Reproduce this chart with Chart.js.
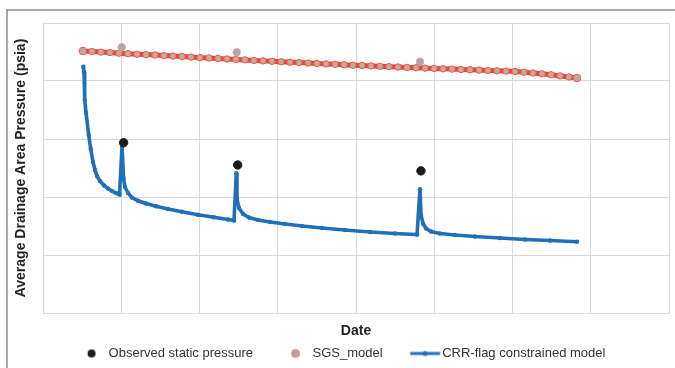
<!DOCTYPE html>
<html>
<head>
<meta charset="utf-8">
<script src="https://cdn.jsdelivr.net/npm/chart.js@4/dist/chart.umd.min.js"></script>
<style>
  html, body { margin: 0; padding: 0; background: #fff; overflow: hidden; }
  #wrap { position: relative; width: 675px; height: 370px; }
</style>
</head>
<body>
<div id="wrap"><canvas id="myChart"></canvas></div>
<script>
// x = date in grid steps (no labels shown), y = pressure in grid steps

// CRR-flag constrained model
const crrX = [0.515, 0.524, 0.533, 0.550, 0.584, 0.610, 0.639, 0.665, 0.690, 0.728, 0.780, 0.831, 0.882, 0.933, 0.978,
  1.010, 1.029, 1.048, 1.086, 1.137, 1.214, 1.316, 1.444, 1.597, 1.776, 1.981, 2.185, 2.364, 2.441,
  2.470, 2.479, 2.505, 2.556, 2.632, 2.748, 2.901, 3.093, 3.310, 3.566, 3.859, 4.179, 4.498, 4.780,
  4.818, 4.831, 4.856, 4.895, 4.958, 5.073, 5.265, 5.521, 5.840, 6.160, 6.479, 6.824];
const crrY = [4.247, 4.160, 3.672, 3.448, 3.069, 2.828, 2.603, 2.466, 2.362, 2.276, 2.198, 2.147, 2.103, 2.069, 2.043,
  2.879, 2.328, 2.172, 2.069, 1.990, 1.935, 1.888, 1.840, 1.792, 1.745, 1.695, 1.650, 1.612, 1.595,
  2.409, 1.966, 1.810, 1.707, 1.647, 1.603, 1.569, 1.534, 1.500, 1.466, 1.431, 1.397, 1.371, 1.353,
  2.133, 1.690, 1.543, 1.457, 1.405, 1.371, 1.345, 1.319, 1.293, 1.267, 1.250, 1.229];

// SGS_model
const sgsX = [0.511, 0.626, 0.741, 0.856, 0.971, 1.086, 1.201, 1.316, 1.431, 1.546, 1.661, 1.776, 1.891, 2.006,
  2.121, 2.236, 2.351, 2.466, 2.581, 2.696, 2.812, 2.927, 3.042, 3.157, 3.272, 3.387, 3.502, 3.617,
  3.732, 3.847, 3.962, 4.077, 4.192, 4.307, 4.422, 4.537, 4.652, 4.767, 4.882, 4.997, 5.112, 5.227,
  5.342, 5.457, 5.572, 5.687, 5.802, 5.917, 6.032, 6.147, 6.262, 6.377, 6.492, 6.607, 6.722, 6.824];
const sgsY = [4.517, 4.509, 4.498, 4.490, 4.479, 4.471, 4.462, 4.455, 4.447, 4.438, 4.429, 4.421, 4.412, 4.403,
  4.397, 4.388, 4.379, 4.372, 4.364, 4.355, 4.347, 4.340, 4.331, 4.324, 4.317, 4.310, 4.302, 4.295,
  4.288, 4.281, 4.272, 4.266, 4.260, 4.253, 4.247, 4.241, 4.234, 4.228, 4.222, 4.216, 4.210, 4.205,
  4.198, 4.193, 4.188, 4.181, 4.176, 4.171, 4.164, 4.152, 4.138, 4.124, 4.107, 4.088, 4.069, 4.052];

// SGS_model at the observation dates (bigger markers)
const sgsObsX = [1.006, 2.475, 4.818];
const sgsObsY = [4.581, 4.495, 4.333];

// Observed static pressure
const obsX = [1.030, 2.488, 4.830];
const obsY = [2.936, 2.552, 2.450];

const legendNames = ["Observed static pressure", "SGS_model", "CRR-flag constrained model"];

const BLUE = "#1f70ba";
const RED = "#e8472c";
const GREY = "#c2aaa7";

function toPoints(xs, ys) {
  return xs.map((x, i) => ({ x: x, y: ys[i] }));
}

// petite image pour les symboles de la légende
function legendIcon(draw) {
  const c = document.createElement("canvas");
  c.width = 60;
  c.height = 20;
  draw(c.getContext("2d"), 38.75, 10);
  return c;
}
const icons = [
  legendIcon((g, x, y) => {
    g.fillStyle = "#1a1a1a";
    g.beginPath(); g.arc(x, y, 4, 0, Math.PI * 2); g.fill();
  }),
  legendIcon((g, x, y) => {
    g.fillStyle = "#a9a9a9";
    g.strokeStyle = "#ee8070";
    g.lineWidth = 1;
    g.beginPath(); g.arc(x, y, 4, 0, Math.PI * 2); g.fill(); g.stroke();
  }),
  legendIcon((g, x, y) => {
    g.strokeStyle = BLUE;
    g.lineWidth = 3;
    g.beginPath(); g.moveTo(x - 15, y); g.lineTo(x + 15, y); g.stroke();
    g.fillStyle = BLUE;
    g.beginPath(); g.arc(x, y, 2.5, 0, Math.PI * 2); g.fill();
  }),
];

// cadre gris autour du graphique
const frame = {
  id: "frame",
  beforeDraw(chart) {
    const ctx = chart.ctx;
    ctx.save();
    ctx.fillStyle = "#fff";
    ctx.fillRect(0, 0, chart.width, chart.height);
    ctx.strokeStyle = "#8c8c8c";
    ctx.lineWidth = 1.5;
    ctx.strokeRect(7, 10, 800, 500);
    ctx.restore();
  },
};

Chart.defaults.font.family = "'Liberation Sans', Arial, sans-serif";

const sgsRadius = sgsX.map((v, i) => (i === 0 || i === sgsX.length - 1 ? 3.8 : 3.2));

const data = {
  datasets: [
    {
      label: legendNames[0],
      data: toPoints(obsX, obsY),
      backgroundColor: "#1a1a1a",
      borderColor: "#1a1a1a",
      pointRadius: 4.2,
      showLine: false,
      order: 0,
    },
    {
      label: "sgs-obs",
      data: toPoints(sgsObsX, sgsObsY),
      backgroundColor: "#a9a9a9",
      borderColor: "#e9a094",
      borderWidth: 0.8,
      pointRadius: 3.8,
      showLine: false,
      order: 1,
    },
    {
      label: legendNames[1],
      data: toPoints(sgsX, sgsY),
      borderColor: RED,
      borderWidth: 5,
      backgroundColor: GREY,
      pointBorderColor: "#ee5a42",
      pointBorderWidth: 1,
      pointRadius: sgsRadius,
      showLine: true,
      order: 2,
    },
    {
      label: legendNames[2],
      data: toPoints(crrX, crrY),
      borderColor: BLUE,
      backgroundColor: BLUE,
      borderWidth: 3.6,
      pointRadius: 2.2,
      pointBorderWidth: 0,
      showLine: true,
      order: 3,
    },
  ],
};

const config = {
  type: "scatter",
  data: data,
  plugins: [frame],
  options: {
    responsive: true,
    maintainAspectRatio: false,
    animation: false,
    layout: { padding: { top: 23, left: 0, right: 6, bottom: 0 } },
    plugins: {
      tooltip: { enabled: false },
      legend: {
        position: "bottom",
        labels: {
          usePointStyle: true,
          pointStyleWidth: 38.5,
          padding: 14.5,
          color: "#333",
          font: { size: 13 },
          generateLabels: () =>
            legendNames.map((name, i) => ({
              text: name,
              pointStyle: icons[i],
              fillStyle: "transparent",
              strokeStyle: "transparent",
              lineWidth: 0,
              fontColor: "#333",
              datasetIndex: i === 0 ? 0 : i + 1,
            })),
        },
      },
    },
    scales: {
      x: {
        type: "linear",
        min: 0,
        max: 8,
        ticks: { display: false, stepSize: 1 },
        grid: { color: "#d9d9d9", drawTicks: false },
        border: { color: "#d9d9d9" },
        title: {
          display: true,
          text: "Date",
          color: "#222",
          font: { size: 14, weight: "bold" },
          padding: { top: 0, bottom: -7 },
        },
        afterFit: (scale) => { scale.height = 19.5; },
      },
      y: {
        min: 0,
        max: 5,
        ticks: { display: false, stepSize: 1 },
        grid: { color: "#d9d9d9", drawTicks: false },
        border: { color: "#d9d9d9" },
        title: {
          display: true,
          text: "Average Drainage Area Pressure (psia)",
          color: "#222",
          font: { size: 14, weight: "bold" },
          padding: { top: 12.6, bottom: 0 },
        },
        afterFit: (scale) => { scale.width = 43; },
      },
    },
  },
};

const context = document.getElementById("myChart").getContext("2d");
const chart = new Chart(context, config);
</script>
</body>
</html>
